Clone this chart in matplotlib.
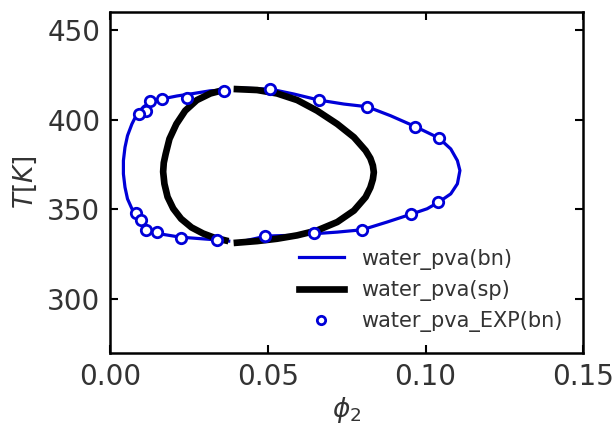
import numpy as np
import matplotlib
matplotlib.use('Agg')
import matplotlib.pyplot as plt

# binodal (calc), left and right branches
bn_left_x = [0.0370, 0.0318, 0.0265, 0.0212, 0.0169, 0.0132, 0.0106, 0.0085, 0.0069, 0.0055, 0.0047,
             0.0042, 0.0042, 0.0047, 0.0055, 0.0069, 0.0085, 0.0106, 0.0132, 0.0169, 0.0222, 0.0275,
             0.0328, 0.0376]
bn_left_T = [416.5, 416.1, 414.6, 413.2, 411.7, 410.2, 407.2, 403.2, 397.6, 391.1, 384.6,
             377.2, 369.8, 362.4, 355.9, 350.4, 346.7, 342.0, 338.3, 336.1, 334.6, 333.9,
             333.2, 332.4]
bn_right_x = [0.0413, 0.0508, 0.0582, 0.0662, 0.0741, 0.0815, 0.0889, 0.0968, 0.1042, 0.1080, 0.1101,
              0.1109, 0.1101, 0.1080, 0.1042, 0.1005, 0.0958, 0.0878, 0.0799, 0.0720, 0.0646, 0.0572,
              0.0495, 0.0434, 0.0402]
bn_right_T = [417.6, 417.0, 414.3, 410.9, 408.7, 407.2, 402.2, 396.1, 389.8, 383.7, 377.2,
              371.7, 364.3, 358.7, 354.1, 350.4, 347.6, 343.0, 338.7, 337.4, 336.5, 335.6,
              335.2, 332.8, 331.9]

# spinodal
sp_left_x = [0.0360, 0.0318, 0.0275, 0.0238, 0.0210, 0.0188, 0.0176, 0.0170, 0.0168, 0.0172, 0.0182,
             0.0200, 0.0225, 0.0258, 0.0295, 0.0330, 0.0365]
sp_left_T = [416.5, 414.6, 410.9, 405.0, 397.6, 389.3, 380.9, 376.0, 371.0, 364.3, 357.0,
             350.5, 344.8, 340.0, 336.6, 334.3, 332.8]
sp_right_x = [0.0402, 0.0466, 0.0529, 0.0593, 0.0656, 0.0720, 0.0773, 0.0810, 0.0825, 0.0833, 0.0836,
              0.0833, 0.0825, 0.0810, 0.0773, 0.0720, 0.0656, 0.0593, 0.0529, 0.0466, 0.0402]
sp_right_T = [417.0, 416.5, 414.6, 410.9, 405.0, 397.6, 390.2, 382.8, 378.5, 374.5, 370.7,
              366.8, 362.2, 356.9, 349.4, 343.0, 338.3, 335.6, 333.7, 332.4, 331.5]

# experimental binodal points
exp_x = [0.0360, 0.0243, 0.0165, 0.0127, 0.0114, 0.0093, 0.0082, 0.0098, 0.0114, 0.0148, 0.0225,
         0.0339, 0.0492, 0.0646, 0.0799, 0.0955, 0.1040, 0.1042, 0.0968, 0.0815, 0.0661, 0.0508]
exp_T = [416.1, 411.8, 411.5, 410.4, 405.0, 403.2, 348.0, 343.9, 338.7, 337.4, 334.1,
         333.2, 335.0, 336.9, 338.3, 347.6, 354.1, 389.8, 396.1, 407.2, 410.9, 417.0]

blue = '#0000d8'
grey = '#333333'

fig = plt.figure(figsize=(6.12, 4.25), dpi=100)
ax = fig.add_axes([0.180, 0.169, 0.773, 0.803])

ax.plot(bn_left_x, bn_left_T, color=blue, lw=2.3, label='water_pva(bn)')
ax.plot(bn_right_x, bn_right_T, color=blue, lw=2.3)
ax.plot(sp_left_x, sp_left_T, color='black', lw=4.8, label='water_pva(sp)')
ax.plot(sp_right_x, sp_right_T, color='black', lw=4.8)
ax.plot(exp_x, exp_T, 'o', ms=7.5, mfc='white', mec=blue, mew=2, ls='none',
        label='water_pva_EXP(bn)')

ax.set_xlim(0, 0.15)
ax.set_ylim(270, 460)
ax.set_xticks([0.0, 0.05, 0.10, 0.15])
ax.set_xticklabels(['0.00', '0.05', '0.10', '0.15'])
ax.set_yticks([300, 350, 400, 450])
ax.tick_params(direction='in', top=True, right=True, length=6, width=1.5,
               labelsize=20, colors='black', labelcolor=grey, pad=7)
for s in ax.spines.values():
    s.set_linewidth(1.8)
ax.set_xlabel(r'$\phi_2$', fontsize=19, color=grey, labelpad=3)
ax.set_ylabel(r'$T[K]$', fontsize=19, color=grey, labelpad=6)

leg = ax.legend(loc='lower right', frameon=False, fontsize=15, markerscale=0.8,
                handlelength=2.2, handletextpad=0.8, labelspacing=0.5, numpoints=1,
                borderaxespad=0.6)
for t in leg.get_texts():
    t.set_color(grey)

fig.savefig('out.png', dpi=100)
